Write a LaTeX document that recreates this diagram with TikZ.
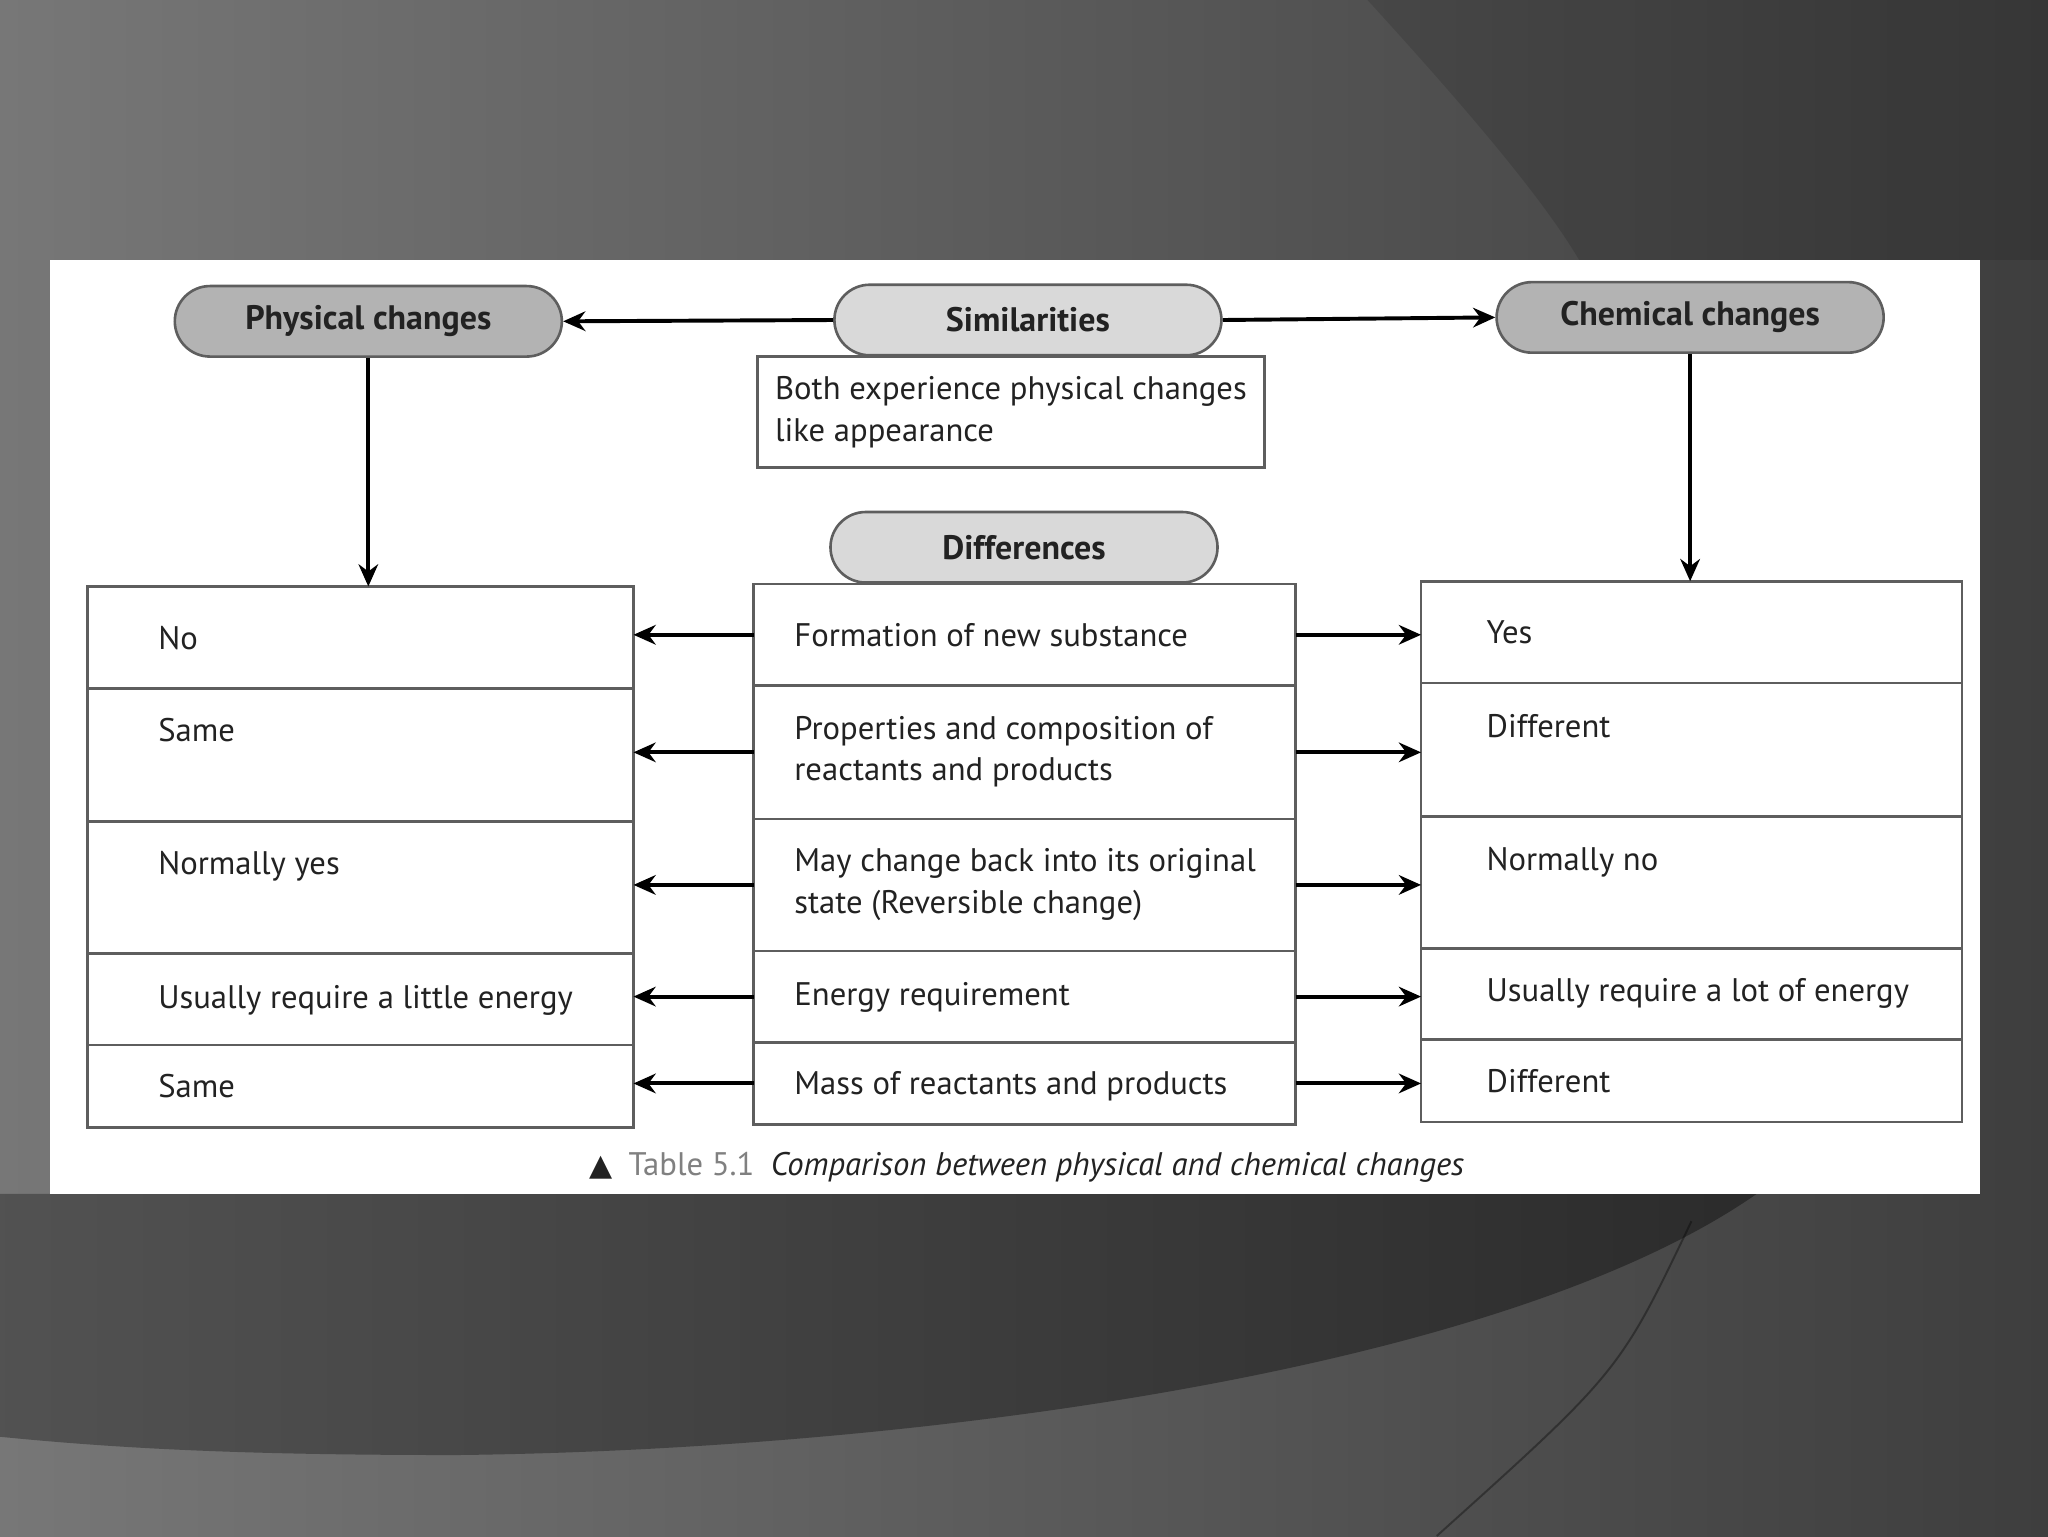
\documentclass[tikz,border=0pt]{standalone}
\usepackage{fontspec}
\setmainfont{PT Sans}
\newfontfamily\symfont{DejaVu Sans}
\usetikzlibrary{arrows.meta,positioning,shapes.misc}

\definecolor{bgleft}{HTML}{777777}
\definecolor{bgright}{HTML}{3E3E3E}
\definecolor{pillgrey}{HTML}{B3B3B3}
\definecolor{pilllight}{HTML}{D9D9D9}
\definecolor{rulegrey}{HTML}{5E5E5E}
\definecolor{inkgrey}{HTML}{222222}
\definecolor{captiongrey}{HTML}{808080}

\tikzset{
  pill/.style={rounded rectangle, draw=rulegrey, line width=2pt, minimum width=303pt,
    minimum height=54pt, text=inkgrey, font=\fontsize{26}{30}\selectfont\bfseries},
  cell/.style={draw=rulegrey, line width=2pt, outer sep=0pt, inner sep=0pt},
  lcell/.style={cell, minimum width=418pt},
  mcell/.style={cell, minimum width=415pt},
  rcell/.style={cell, minimum width=414pt},
  txt/.style={inner sep=0pt, anchor=west, align=left, text depth=0pt, text=inkgrey,
    font=\fontsize{25}{32}\selectfont},
  arr/.style={line width=3pt, -{Stealth[length=17pt,width=15pt]}}
}

\begin{document}
\begin{tikzpicture}[x=1pt,y=-1pt]
\useasboundingbox (0,0) rectangle (1568,1176);
% slide background
\shade[left color=bgleft, right color=bgright] (0,0) rectangle (1568,1176);
\fill[black, opacity=.12] (1047,0) .. controls (1120,80) and (1180,150) .. (1209,199)
  -- (1568,199) -- (1568,0) -- cycle;
\shade[left color=black!68, right color=black!83] (0,914) -- (1345,914)
  .. controls (1150,1050) and (700,1110) .. (350,1114)
  .. controls (200,1114) and (100,1110) .. (0,1100) -- cycle;
\draw[black, opacity=.35, line width=1.5pt] (1295,935) .. controls (1240,1050) .. (1100,1176);
\fill[white] (38,199) rectangle (1516,914);

% top row
\node[draw=rulegrey, line width=2pt, minimum width=388pt, minimum height=85pt, align=left,
  anchor=north west, text=inkgrey, font=\fontsize{25}{32}\selectfont] (simtext) at (579,272)
  {Both experience physical changes\\like appearance};
\node[pill, fill=pillgrey] (phys) at (282,246) {Physical changes};
\node[pill, fill=pilllight] (sim) at (787,245) {Similarities};
\node[pill, fill=pillgrey] (chem) at (1294,243) {Chemical changes};
\node[pill, fill=pilllight] (diff) at (784,419) {Differences};

% physical column
\node[lcell, minimum height=78pt, anchor=north west] (l1) at (67,449) {};
\node[lcell, minimum height=102pt, below=0pt of l1] (l2) {};
\node[lcell, minimum height=101pt, below=0pt of l2] (l3) {};
\node[lcell, minimum height=70pt, below=0pt of l3] (l4) {};
\node[lcell, minimum height=63pt, below=0pt of l4] (l5) {};
\node[txt] (l1t) at ([xshift=54pt]l1.west) {No};
\node[txt] (l2t) at ([xshift=54pt,yshift=19pt]l2.west) {Same};
\node[txt] (l3t) at ([xshift=54pt,yshift=19pt]l3.west) {Normally yes};
\node[txt] (l4t) at ([xshift=54pt,yshift=2pt]l4.west) {Usually require a little energy};
\node[txt] (l5t) at ([xshift=54pt]l5.west) {Same};

% differences column
\node[mcell, minimum height=78pt, anchor=north west] (m1) at (577,447) {};
\node[mcell, minimum height=102pt, below=0pt of m1] (m2) {};
\node[mcell, minimum height=101pt, below=0pt of m2] (m3) {};
\node[mcell, minimum height=70pt, below=0pt of m3] (m4) {};
\node[mcell, minimum height=63pt, below=0pt of m4] (m5) {};
\node[txt] (m1t) at ([xshift=31pt]m1.west) {Formation of new substance};
\node[txt] (m2t) at ([xshift=31pt,yshift=3pt]m2.west) {Properties and composition of\\reactants and products};
\node[txt] (m3t) at ([xshift=31pt,yshift=3pt]m3.west) {May change back into its original\\state (Reversible change)};
\node[txt] (m4t) at ([xshift=31pt,yshift=2pt]m4.west) {Energy requirement};
\node[txt] (m5t) at ([xshift=31pt]m5.west) {Mass of reactants and products};

% chemical column
\node[rcell, minimum height=78pt, anchor=north west] (r1) at (1088,445) {};
\node[rcell, minimum height=102pt, below=0pt of r1] (r2) {};
\node[rcell, minimum height=101pt, below=0pt of r2] (r3) {};
\node[rcell, minimum height=70pt, below=0pt of r3] (r4) {};
\node[rcell, minimum height=63pt, below=0pt of r4] (r5) {};
\node[txt] (r1t) at ([xshift=50pt]r1.west) {Yes};
\node[txt] (r2t) at ([xshift=50pt,yshift=18pt]r2.west) {Different};
\node[txt] (r3t) at ([xshift=50pt,yshift=18pt]r3.west) {Normally no};
\node[txt] (r4t) at ([xshift=50pt,yshift=3pt]r4.west) {Usually require a lot of energy};
\node[txt] (r5t) at ([xshift=50pt]r5.west) {Different};

% caption
\node[text=inkgrey, font=\fontsize{25}{28}\selectfont] (caption) at (786,894)
  {{\symfont\fontsize{23}{26}\selectfont ▲}\enspace{\color{captiongrey}Table 5.1}\enspace\textit{Comparison between physical and chemical changes}};

% connectors
\draw[arr] (sim.west) -- (phys.east);
\draw[arr] (sim.east) -- (chem.west);
\draw[arr] (phys.south) -- (phys.south |- l1.north);
\draw[arr] (chem.south) -- (chem.south |- r1.north);
\draw[arr] (m1.west) -- (m1.west -| l1.east);
\draw[arr] (m2.west) -- (m2.west -| l2.east);
\draw[arr] (m3.west) -- (m3.west -| l3.east);
\draw[arr] (m4.west) -- (m4.west -| l4.east);
\draw[arr] (m5.west) -- (m5.west -| l5.east);
\draw[arr] (m1.east) -- (m1.east -| r1.west);
\draw[arr] (m2.east) -- (m2.east -| r2.west);
\draw[arr] (m3.east) -- (m3.east -| r3.west);
\draw[arr] (m4.east) -- (m4.east -| r4.west);
\draw[arr] (m5.east) -- (m5.east -| r5.west);
\end{tikzpicture}
\end{document}
